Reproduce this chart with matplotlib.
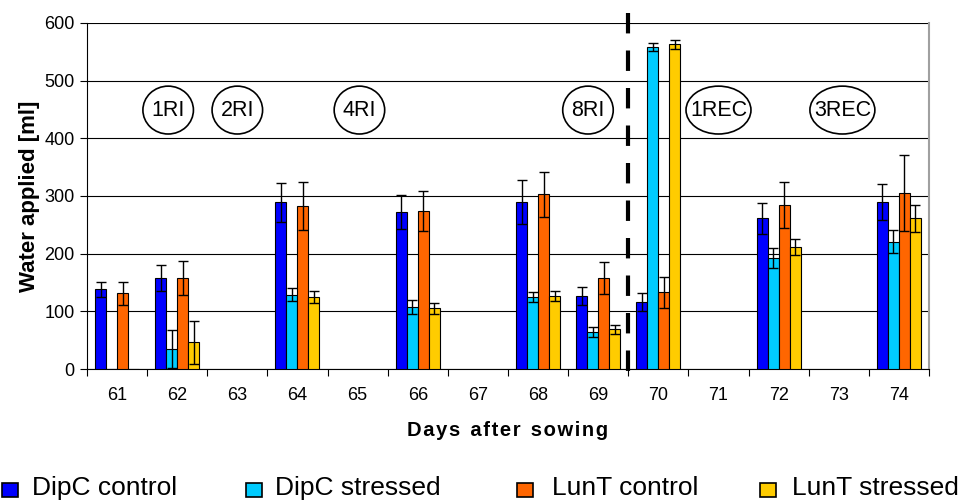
import numpy as np
import matplotlib.pyplot as plt
from matplotlib.patches import Ellipse, Rectangle

plt.rcParams['font.family'] = ['Liberation Sans', 'DejaVu Sans']

nan = np.nan
days = ['61', '62', '63', '64', '65', '66', '67', '68', '69', '70', '71', '72', '73', '74']

dipc_control = [138, 158, nan, 289, nan, 272, nan, 289, 127, 116, nan, 261, nan, 290]
dipc_control_err = [13, 22, nan, 34, nan, 29, nan, 38, 16, 15, nan, 27, nan, 31]
dipc_stressed = [0, 35, nan, 129, nan, 107, nan, 125, 64, 558, nan, 193, nan, 221]
dipc_stressed_err = [nan, 33, nan, 11, nan, 12, nan, 9, 8, 7, nan, 17, nan, 20]
lunt_control = [131, 158, nan, 283, nan, 274, nan, 303, 158, 133, nan, 285, nan, 305]
lunt_control_err = [20, 30, nan, 42, nan, 35, nan, 39, 28, 27, nan, 40, nan, 66]
lunt_stressed = [0, 46, nan, 125, nan, 105, nan, 127, 69, 563, nan, 212, nan, 261]
lunt_stressed_err = [nan, 38, nan, 11, nan, 9, nan, 9, 8, 8, nan, 14, nan, 24]

series = [
    ('DipC control', dipc_control, dipc_control_err, '#0000FF'),
    ('DipC stressed', dipc_stressed, dipc_stressed_err, '#00CCFF'),
    ('LunT control', lunt_control, lunt_control_err, '#FF6600'),
    ('LunT stressed', lunt_stressed, lunt_stressed_err, '#FFCC00'),
]

# treatment phases marked above the bars
phase_labels = ['1RI', '2RI', '4RI', '8RI', '1REC', '3REC']
phase_x = [0.85, 2.0, 4.03, 7.83, 10.0, 12.06]
phase_w = [0.84, 0.84, 0.84, 0.84, 1.08, 1.08]

fig = plt.figure(figsize=(9.61, 5.03), dpi=100)
ax = fig.add_axes([0.0905, 0.2664, 0.8762, 0.6879])

x = np.arange(len(days))
w = 0.183
for i, (name, vals, err, col) in enumerate(series):
    pos = x + (i - 1.5) * w
    ax.bar(pos, vals, width=w, color=col, edgecolor='black', linewidth=0.8, zorder=3)
    ax.errorbar(pos, vals, yerr=err, fmt='none', ecolor='black', elinewidth=1.0,
                capsize=3.5, capthick=1.0, zorder=4)

ax.set_xlim(-0.5, len(days) - 0.5)
ax.set_ylim(0, 600)
ax.set_yticks(np.arange(0, 601, 100))
ax.yaxis.grid(True, color='black', linewidth=0.8, zorder=1)
ax.set_axisbelow(True)

ax.set_xticks(x)
ax.set_xticklabels(days)
ax.set_xticks(np.arange(-0.5, len(days)), minor=True)
ax.tick_params(axis='x', which='major', length=0, pad=13, labelsize=13)
ax.tick_params(axis='x', which='minor', length=5, width=0.8, direction='out')
ax.tick_params(axis='y', length=5, width=0.8, direction='out', labelsize=13, pad=4)

ax.spines['top'].set_visible(False)
ax.spines['right'].set_color('#a0a0a0')
ax.spines['right'].set_linewidth(1.5)
ax.spines['left'].set_linewidth(0.8)
ax.spines['bottom'].set_linewidth(0.8)

ax.set_xlabel('D a y s  a f t e r  s o w i n g'.replace('  ', '\u2002').replace(' ', '\u200a'),
              fontsize=14.5, fontweight='bold', labelpad=12)
ax.set_ylabel('Water applied [ml]', fontsize=16, fontweight='bold', labelpad=3)

# start of recovery
ax.plot([8.5, 8.5], [618, -5], color='black', linewidth=3,
        linestyle=(0, (4.9, 4.1)), clip_on=False, zorder=5)

for lab, px, pw in zip(phase_labels, phase_x, phase_w):
    ax.add_patch(Ellipse((px, 449), pw, 83, facecolor='white', edgecolor='black',
                         linewidth=1.2, zorder=6))
    ax.text(px, 449, lab, ha='center', va='center', fontsize=15.5, zorder=7)

# legend along the bottom edge
leg_box_x = [0.0021, 0.256, 0.538, 0.791]
leg_text_x = [0.0333, 0.2862, 0.5744, 0.8241]
for (name, vals, err, col), bx, tx in zip(series, leg_box_x, leg_text_x):
    fig.patches.append(Rectangle((bx, 0.0119), 0.0166, 0.0278, facecolor=col,
                                 edgecolor='black', linewidth=1.2,
                                 transform=fig.transFigure, figure=fig))
    fig.text(tx, 0.0298, name, fontsize=19, va='center', ha='left')

fig.savefig('out.png', dpi=100)
